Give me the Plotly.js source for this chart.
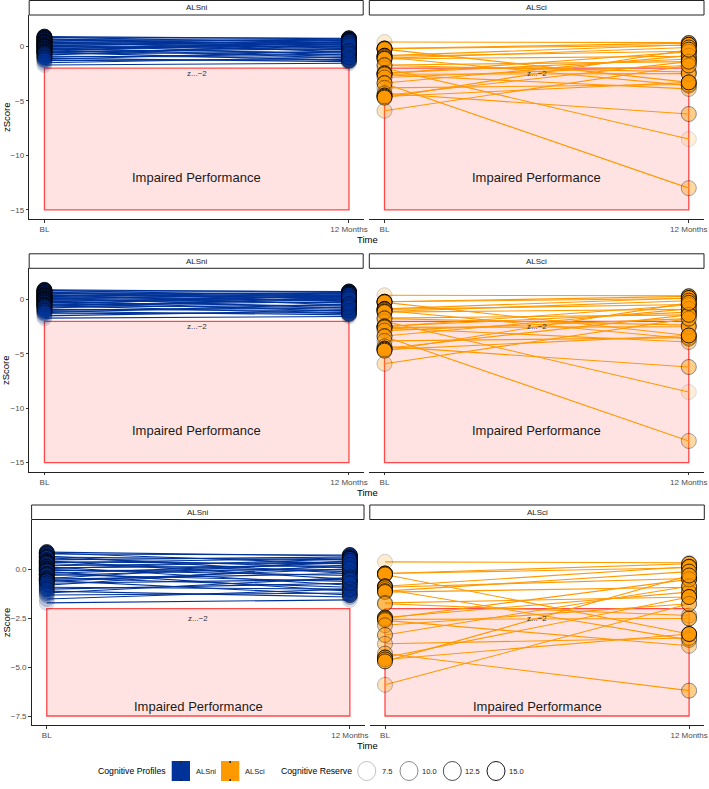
<!DOCTYPE html>
<html><head><meta charset="utf-8">
<script src="https://cdn.plot.ly/plotly-3.0.1.min.js"></script>
<style>html,body{margin:0;padding:0;background:#fff}#chart{width:709px;height:789px}</style>
</head><body><div id="chart"></div><script>
// ---------- data ----------
const timeLabels = ['BL', '12 Months'];
const timeIndex = [0, 1];
const profiles = ['ALSni', 'ALSci'];
const profileColors = ['#003399', '#FF9900'];

const alsniBL  = [0.9, 0.85, 0.8, 0.7, 0.65, 0.6, 0.5, 0.45, 0.4, 0.35, 0.3, 0.2, 0.15, 0.1, 0.05, 0.0, -0.05, -0.1, -0.2, -0.25, -0.3, -0.4, -0.45, -0.5, -0.55, -0.6, -0.7, -0.8, -0.9, -1.0, -1.1, -1.2, -1.3, -1.5, -1.7];
const alsniM12 = [0.7, 0.3, 0.75, -0.2, 0.5, 0.1, 0.65, -0.5, 0.3, 0.6, -0.1, 0.4, -0.8, 0.2, 0.55, -0.3, 0.0, -1.1, 0.35, -0.6, 0.15, -0.9, 0.45, -0.2, -1.3, 0.05, -0.5, 0.25, -1.0, -0.7, -1.4, -0.4, -1.2, -1.0, -1.55];
const alsniReserve = [14, 13, 15, 12, 14, 13, 11, 12, 15, 13, 14, 12, 13, 10, 14, 12, 15, 11, 13, 14, 12, 10, 13, 11, 14, 12, 13, 10, 9, 12, 8, 9, 8, 7, 6.5];

const alsciBL  = [0.4, -0.2, -0.2, -0.25, -0.85, -0.9, -1.0, -1.1, -1.15, -1.7, -1.75, -2.45, -2.5, -2.55, -2.6, -2.0, -2.85, -3.35, -3.4, -3.8, -4.3, -4.5, -4.6, -4.7, -5.9];
const alsciM12 = [0.35, 0.3, 0.1, -3.3, 0.15, -0.45, -3.6, -0.1, -0.9, -1.4, -2.35, -1.15, -0.5, -2.5, -3.9, -8.5, -1.75, -0.85, -13.0, -3.5, -6.2, -1.4, -3.3, -0.3, -1.75];
const alsciReserve = [7, 14, 15, 12, 15, 14, 11, 13, 12, 9, 10, 14, 13, 12, 9, 6.5, 10, 11, 9, 9, 10, 15, 14, 13, 8];

const reserveBreaks = [7.5, 10.0, 12.5, 15.0];
const reserveLimits = [6, 16];
const cutoff = -2;
const impairedFloorRows12 = -15;
const impairedFloorRow3 = -7.5;
const row3MinKept = -7;           // third row omits the two extreme 12-month outliers
const yTicksRows12 = [-15, -10, -5, 0];
const yTickTextRows12 = ['\u221215', '\u221210', '\u22125', '0'];
const yTicksRow3 = [-7.5, -5.0, -2.5, 0.0];
const yTickTextRow3 = ['\u22127.5', '\u22125.0', '\u22122.5', '0.0'];
const cutoffLabel = 'z...\u22122';
const impairedLabel = 'Impaired Performance';

// ---------- geometry ----------
const W = 709, H = 789;
const px = v => v / W;
const py = v => 1 - v / H;
const FONT = 'Liberation Sans, Arial, sans-serif';

const rows = [
  {top: 15, bottom: 219, stripTop: 0.5, cols: [[29.2, 364.2], [369.3, 704]], yr: [-15.83, 2.88], tv: yTicksRows12, tt: yTickTextRows12, floor: impairedFloorRows12, labY: -12, timeY: 239},
  {top: 268.3, bottom: 471.7, stripTop: 253.8, cols: [[29.2, 364.2], [369.3, 704]], yr: [-15.83, 2.88], tv: yTicksRows12, tt: yTickTextRows12, floor: impairedFloorRows12, labY: -12, timeY: 492},
  {top: 519.5, bottom: 725, stripTop: 505, cols: [[31.6, 365], [369.8, 704.3]], yr: [-7.96, 2.57], tv: yTicksRow3, tt: yTickTextRow3, floor: impairedFloorRow3, labY: -7, timeY: 745}
];

const alphaOf = r => 0.1 + 0.9 * Math.max(0, Math.min(1, (r - reserveLimits[0]) / (reserveLimits[1] - reserveLimits[0])));

const data = [];
const layout = {
  width: W, height: H, margin: {l: 0, r: 0, t: 0, b: 0},
  paper_bgcolor: '#fff', plot_bgcolor: 'rgba(0,0,0,0)',
  showlegend: false, font: {family: FONT},
  shapes: [], annotations: []
};

function ann(text, x, y, size, color, extra) {
  layout.annotations.push(Object.assign({text: text, x: px(x), y: py(y), xref: 'paper', yref: 'paper',
    showarrow: false, xanchor: 'center', yanchor: 'middle', font: {size: size, color: color, family: FONT}}, extra || {}));
}

rows.forEach((row, r) => {
  [0, 1].forEach(c => {
    const k = r * 2 + c + 1;
    const xa = 'x' + k, ya = 'y' + k;
    const xk = k === 1 ? 'xaxis' : 'xaxis' + k;
    const yk = k === 1 ? 'yaxis' : 'yaxis' + k;
    const [x0p, x1p] = row.cols[c];
    layout[xk] = {domain: [px(x0p), px(x1p)], anchor: ya, range: [-0.05, 1.05], tickvals: timeIndex, ticktext: timeLabels,
      showgrid: false, zeroline: false, showline: true, linecolor: '#222', linewidth: 1, ticks: 'outside', ticklen: 2.5, tickcolor: '#333',
      tickfont: {size: 8, color: '#4d4d4d', family: FONT}, fixedrange: true};
    layout[yk] = {domain: [py(row.bottom), py(row.top)], anchor: xa, range: row.yr, tickvals: row.tv, ticktext: row.tt,
      showgrid: false, zeroline: false, showline: c === 0, linecolor: '#222', linewidth: 1, ticks: c === 0 ? 'outside' : '', ticklen: 2.5, tickcolor: '#333',
      showticklabels: c === 0, tickfont: {size: 8, color: '#4d4d4d', family: FONT}, fixedrange: true};

    // impaired region
    layout.shapes.push({type: 'rect', xref: xa, yref: ya, x0: timeIndex[0], x1: timeIndex[1], y0: row.floor, y1: cutoff,
      fillcolor: 'rgba(255,0,0,0.11)', line: {color: 'rgba(255,30,30,0.8)', width: 1.3}, layer: 'below'});

    // data
    let bl = c === 0 ? alsniBL : alsciBL;
    let m12 = c === 0 ? alsniM12 : alsciM12;
    let res = c === 0 ? alsniReserve : alsciReserve;
    if (r === 2) {
      const keep = m12.map((v, i) => v > row3MinKept && bl[i] > row3MinKept);
      bl = bl.filter((v, i) => keep[i]); m12 = m12.filter((v, i) => keep[i]); res = res.filter((v, i) => keep[i]);
    }
    const lx = [], ly = [];
    bl.forEach((v, i) => { lx.push(timeIndex[0], timeIndex[1], null); ly.push(v, m12[i], null); });
    data.push({type: 'scatter', mode: 'lines', x: lx, y: ly, xaxis: xa, yaxis: ya, hoverinfo: 'skip',
      line: {color: profileColors[c], width: 1.1}});
    const mx = bl.map(() => timeIndex[0]).concat(m12.map(() => timeIndex[1]));
    const my = bl.concat(m12);
    const op = res.concat(res).map(alphaOf);
    data.push({type: 'scatter', mode: 'markers', x: mx, y: my, xaxis: xa, yaxis: ya, hoverinfo: 'skip',
      marker: {size: 15, color: profileColors[c], opacity: op, line: {color: '#000', width: 1}}});

    // annotations inside panel
    layout.annotations.push({text: cutoffLabel, xref: xa, yref: ya, x: 0.5, y: cutoff - 0.5, showarrow: false,
      font: {size: 8, color: '#333', family: FONT}});
    layout.annotations.push({text: impairedLabel, xref: xa, yref: ya, x: 0.5, y: row.labY, showarrow: false,
      font: {size: 13, color: '#1a1a1a', family: FONT}});

    // strip
    layout.shapes.push({type: 'rect', xref: 'paper', yref: 'paper', x0: px(x0p), x1: px(c === 0 ? x1p - 1 : x1p),
      y0: py(row.top), y1: py(row.stripTop), fillcolor: '#fff', line: {color: '#222', width: 1}});
    ann(profiles[c], (x0p + x1p) / 2, (row.top + row.stripTop) / 2, 8, '#1a1a1a');
  });
  // axis titles
  ann('zScore', 6, (row.top + row.bottom) / 2, 9.5, '#000', {textangle: -90});
  ann('Time', 367, row.timeY, 9.5, '#000');
});

// ---------- legend ----------
const legY = 771;
ann('Cognitive Profiles', 131.5, legY, 8.7, '#000');
[[171.7, 190], [221, 239.3]].forEach((b, i) => {
  layout.shapes.push({type: 'rect', xref: 'paper', yref: 'paper', x0: px(b[0]), x1: px(b[1]), y0: py(legY + 10), y1: py(legY - 10),
    fillcolor: profileColors[i], line: {width: 0}});
  const mid = (b[0] + b[1]) / 2;
  layout.shapes.push({type: 'line', xref: 'paper', yref: 'paper', x0: px(mid), x1: px(mid), y0: py(legY - 10), y1: py(legY - 8), line: {color: '#222', width: 1.5}});
  layout.shapes.push({type: 'line', xref: 'paper', yref: 'paper', x0: px(mid), x1: px(mid), y0: py(legY + 10), y1: py(legY + 8), line: {color: '#222', width: 1.5}});
});
ann(profiles[0], 206, legY, 7.5, '#1a1a1a');
ann(profiles[1], 255, legY, 7.5, '#1a1a1a');
ann('Cognitive Reserve', 316.5, legY, 8.7, '#000');
const circX = [366.7, 409, 452.3, 496];
reserveBreaks.forEach((b, i) => {
  const cx = circX[i];
  layout.shapes.push({type: 'circle', xref: 'paper', yref: 'paper', x0: px(cx - 9), x1: px(cx + 9), y0: py(legY + 9.5), y1: py(legY - 9.5),
    line: {color: 'rgba(0,0,0,' + alphaOf(b).toFixed(3) + ')', width: 1}, fillcolor: 'rgba(0,0,0,0)'});
  ann(b.toFixed(1), cx + 20.5, legY, 7.5, '#1a1a1a');
});

Plotly.newPlot('chart', data, layout, {staticPlot: true, displayModeBar: false});
</script></body></html>
